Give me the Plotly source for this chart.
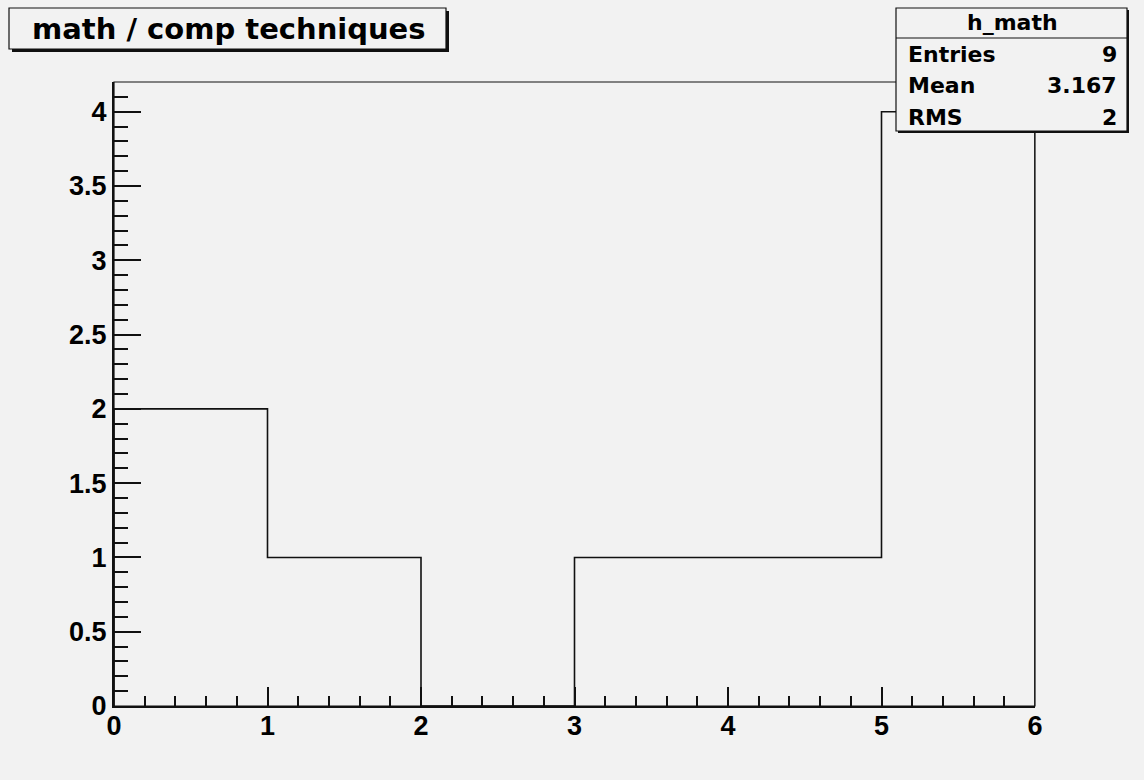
import plotly.graph_objects as go

# ---- data ----
bin_edges = [0, 1, 2, 3, 4, 5, 6]
bin_counts = [2, 1, 0, 1, 1, 4]
hist_name = "h_math"
title_text = "math / comp techniques"
stats_labels = ["Entries", "Mean", "RMS"]
stats_values = ["9", "3.167", "2"]

# ---- layout geometry (pixels) ----
W, H = 1144, 780
PL, PR, PT, PB = 114, 1035, 82, 706
BG = "#f2f2f2"
FONT = "Liberation Sans, Arial, Helvetica, sans-serif"
BOXFONT = "DejaVu Sans, Liberation Sans, sans-serif"


def px(x):
    return (x - PL) / (PR - PL)


def py(y):
    return (PB - y) / (PB - PT)


# step outline built from the histogram arrays
xs = [bin_edges[0]] + bin_edges
ys = [0] + bin_counts + [0]

fig = go.Figure()
fig.add_trace(go.Scatter(x=xs, y=ys, mode="lines", line_shape="hv",
                         line=dict(color="#111111", width=1.6),
                         hoverinfo="skip", showlegend=False))

ymax = max(bin_counts) * 1.05

shapes = []
# frame (top & right thin lines)
shapes.append(dict(type="rect", xref="paper", yref="paper", x0=0, x1=1, y0=0, y1=1,
                   line=dict(color="#111111", width=1.2), layer="above"))


def box(x0, y0, x1, y1, shadow=3):
    shapes.append(dict(type="rect", xref="paper", yref="paper",
                       x0=px(x0 + shadow), x1=px(x1 + shadow), y0=py(y1 + shadow), y1=py(y0 + shadow),
                       fillcolor="#111111", line=dict(width=0), layer="above"))
    shapes.append(dict(type="rect", xref="paper", yref="paper",
                       x0=px(x0), x1=px(x1), y0=py(y1), y1=py(y0),
                       fillcolor=BG, line=dict(color="#111111", width=1.2), layer="above"))


# title box
box(9, 8, 446, 49)
# stats box
box(896, 8, 1127, 131, shadow=2)
shapes.append(dict(type="line", xref="paper", yref="paper",
                   x0=px(896), x1=px(1127), y0=py(38), y1=py(38),
                   line=dict(color="#111111", width=1.2), layer="above"))

annotations = []
annotations.append(dict(text=title_text, xref="paper", yref="paper",
                        x=px(229), y=py(29), xanchor="center", yanchor="middle",
                        showarrow=False, font=dict(family=BOXFONT, size=29, color="#000000", weight="bold")))
annotations.append(dict(text=hist_name, xref="paper", yref="paper",
                        x=px(1012), y=py(23), xanchor="center", yanchor="middle",
                        showarrow=False, font=dict(family=BOXFONT, size=22, color="#000000", weight="bold")))
row_y = [55, 86, 117]
for lab, val, ry in zip(stats_labels, stats_values, row_y):
    annotations.append(dict(text=lab, xref="paper", yref="paper",
                            x=px(906), y=py(ry), xanchor="left", yanchor="middle",
                            showarrow=False, font=dict(family=BOXFONT, size=22, color="#000000", weight="bold")))
    annotations.append(dict(text=val, xref="paper", yref="paper",
                            x=px(1119), y=py(ry), xanchor="right", yanchor="middle",
                            showarrow=False, font=dict(family=BOXFONT, size=22, color="#000000", weight="bold")))

tickfont = dict(family=FONT, size=27, color="#000000", weight="bold")

fig.update_layout(
    width=W, height=H, autosize=False,
    margin=dict(l=PL, r=W - PR, t=PT, b=H - PB, pad=0),
    paper_bgcolor=BG, plot_bgcolor=BG,
    shapes=shapes, annotations=annotations,
    xaxis=dict(range=[bin_edges[0], bin_edges[-1]], showgrid=False, zeroline=False,
               showline=True, linecolor="#111111", linewidth=2,
               ticks="inside", ticklen=19, tickwidth=1.6, tickcolor="#111111",
               dtick=1, tick0=0, tickfont=tickfont, ticklabelstandoff=-5,
               minor=dict(ticks="inside", ticklen=10, tickwidth=1.6, tickcolor="#111111", dtick=0.2, showgrid=False)),
    yaxis=dict(range=[0, ymax], showgrid=False, zeroline=False,
               showline=True, linecolor="#111111", linewidth=2,
               ticks="inside", ticklen=27, tickwidth=1.6, tickcolor="#111111",
               dtick=0.5, tick0=0, tickfont=tickfont,
               minor=dict(ticks="inside", ticklen=14, tickwidth=1.6, tickcolor="#111111", dtick=0.1, showgrid=False)),
)

fig.write_html("out.html", config={"displayModeBar": False},
               post_script="document.body.style.margin='0';document.body.style.background='%s';" % BG)
